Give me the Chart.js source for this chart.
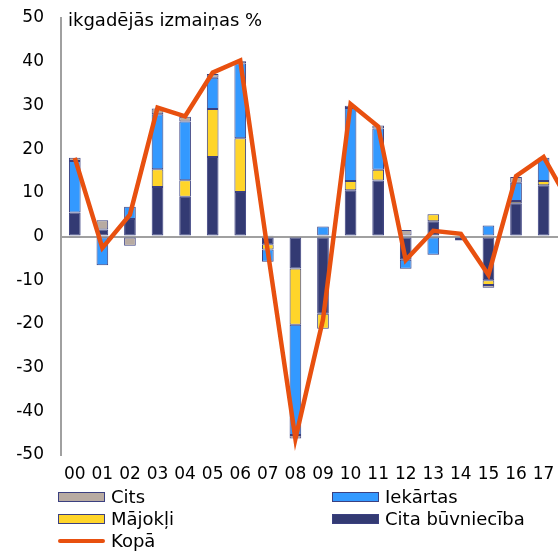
<!DOCTYPE html>
<html>
<head>
<meta charset="utf-8">
<script src="https://cdn.jsdelivr.net/npm/chart.js@4/dist/chart.umd.min.js"></script>
<style>
html,body{margin:0;padding:0;background:#fff;overflow:hidden;width:558px;height:554px}
#wrap{position:absolute;left:0;top:0;width:591px;height:554px}
#title{position:absolute;left:68px;top:10px;font:18px "DejaVu Sans";line-height:20px;color:#000;white-space:nowrap}
.lg{position:absolute;font:18px "DejaVu Sans";line-height:20px;color:#000;white-space:nowrap;display:flex;align-items:center}
.sw{width:45px;height:8px;border:1px solid #3B4080;margin-right:6px}
.ln{width:47px;height:4px;margin-right:6px;border-radius:2px}
</style>
</head>
<body>
<div id="wrap"><canvas id="c" width="591" height="554"></canvas></div>
<div id="title">ikgadējās izmaiņas %</div>
<div id="legend"></div>
<script>
const years = ['00','01','02','03','04','05','06','07','08','09','10','11','12','13','14','15','16','17','18'];
const citaBuvniecibaVals = [5.5, 1.6, 4.0, 11.3, 9.1, 18.2, 10.2, -1.8, -7.3, -17.7, 10.6, 12.8, -5.3, 3.5, -0.6, -10.0, 7.6, 11.7, null];
const majokliVals        = [-0.3, 0, 0, 4.1, 3.8, 11.0, 12.3, -1.2, -12.9, -3.4, 2.1, 2.5, 0, 1.6, 0, -1.1, 0.5, 1.0, null];
const iekartasVals       = [11.8, -6.6, 2.8, 12.6, 13.4, 7.1, 17.1, -2.8, -25.2, 2.3, 16.7, 9.4, -2.1, -4.2, -0.3, 2.5, 4.2, 5.3, null];
const citsVals           = [0.7, 2.1, -2.1, 1.3, 1.1, 0.9, 0.5, 0.3, -0.8, 0, 0.5, 0.7, 1.5, 0, 0, -0.6, 1.3, 0, null];
const kopaVals           = [18.0, -2.6, 5.0, 29.5, 27.5, 37.5, 40.3, -3.5, -46.3, -19.0, 30.3, 25.2, -5.4, 1.3, 0.6, -8.8, 13.8, 18.2, 7.0];
const yTicks = [50, 40, 30, 20, 10, 0, -10, -20, -30, -40, -50];

const FONT = 'DejaVu Sans';
const COL = {
  cita: '#333A73', maj: '#FFD52A', iek: '#3399FF', cits: '#B8ABA2', kopa: '#E8500F', edge: '#3B4080'
};

const chart = new Chart(document.getElementById('c'), {
  type: 'bar',
  data: {
    labels: years,
    datasets: [
      {type:'line', label:'Kopā', data:kopaVals, borderColor:COL.kopa, backgroundColor:COL.kopa,
       borderWidth:4.5, pointRadius:0, tension:0, fill:false, order:0, stack:'line', borderJoinStyle:'miter'},
      {label:'Cita būvniecība', data:citaBuvniecibaVals, backgroundColor:COL.cita, order:1, stack:'s'},
      {label:'Mājokļi', data:majokliVals, backgroundColor:COL.maj, order:1, stack:'s'},
      {label:'Iekārtas', data:iekartasVals, backgroundColor:COL.iek, order:1, stack:'s'},
      {label:'Cits', data:citsVals, backgroundColor:COL.cits, order:1, stack:'s'}
    ]
  },
  options: {
    responsive:false, animation:false, devicePixelRatio:1,
    layout:{padding:{top:18, bottom:59, left:0, right:0}},
    plugins:{legend:{display:false}, tooltip:{enabled:false}},
    datasets:{bar:{borderColor:COL.edge, borderWidth:1, borderSkipped:false, barPercentage:0.9, categoryPercentage:0.47}},
    scales:{
      x:{stacked:true, grid:{display:false, drawTicks:false}, border:{display:false},
         ticks:{font:{family:FONT, size:17}, color:'#000', padding:9, maxRotation:0, autoSkip:false},
         afterFit(s){ s.height = 40; }},
      y:{stacked:true, min:-50, max:50,
         afterBuildTicks(s){ s.ticks = yTicks.map(v => ({value:v})); },
         ticks:{font:{family:FONT, size:17}, color:'#000', padding:0},
         grid:{color:c => (c.tick && c.tick.value === 0) ? '#A0A0A0' : 'rgba(0,0,0,0)', lineWidth:2,
               drawTicks:true, tickLength:17, tickColor:'rgba(0,0,0,0)'},
         border:{color:'#A0A0A0', width:2},
         afterFit(s){ s.width = 61; }}
    }
  }
});

// HTML legend built from datasets
const legendLayout = [
  {label:'Cits', left:58, top:487},
  {label:'Iekārtas', left:332, top:487},
  {label:'Mājokļi', left:58, top:509},
  {label:'Cita būvniecība', left:332, top:509},
  {label:'Kopā', left:58, top:531}
];
const lg = document.getElementById('legend');
legendLayout.forEach(it => {
  const ds = chart.data.datasets.find(d => d.label === it.label);
  const el = document.createElement('div');
  el.className = 'lg';
  el.style.left = it.left + 'px';
  el.style.top = it.top + 'px';
  const sw = document.createElement('span');
  if (ds.type === 'line') { sw.className = 'ln'; sw.style.background = ds.borderColor; }
  else { sw.className = 'sw'; sw.style.background = ds.backgroundColor; }
  el.appendChild(sw);
  const t = document.createElement('span');
  t.textContent = ds.label;
  el.appendChild(t);
  lg.appendChild(el);
});
</script>
</body>
</html>
